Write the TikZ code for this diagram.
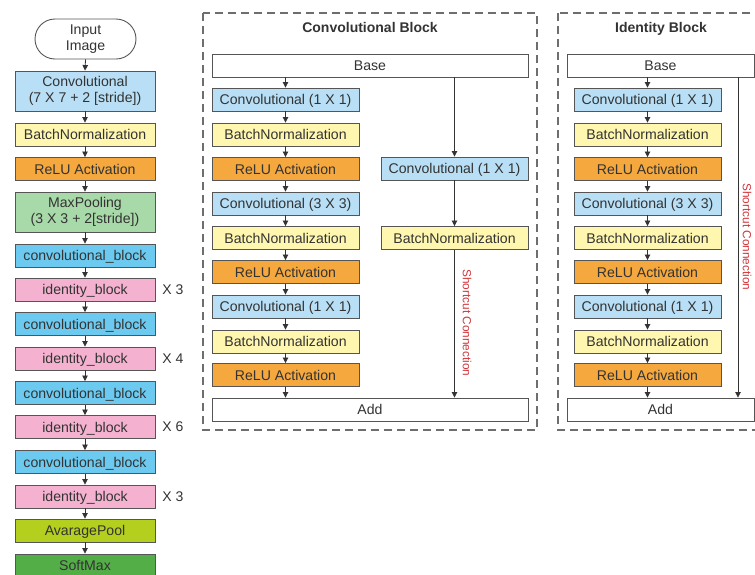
\documentclass[tikz,border=0pt]{standalone}
\usepackage{fontspec}
\setmainfont{Liberation Sans}
\usetikzlibrary{arrows.meta}
\definecolor{cLB}{HTML}{B8DFF5}
\definecolor{cCB}{HTML}{6CCAF0}
\definecolor{cPK}{HTML}{F4B2D0}
\definecolor{cYL}{HTML}{FFF7B0}
\definecolor{cOR}{HTML}{F5A83D}
\definecolor{cGN}{HTML}{A8D9A8}
\definecolor{cAV}{HTML}{B5CF1E}
\definecolor{cSM}{HTML}{53AE48}
\definecolor{cBD}{HTML}{555555}
\definecolor{cTX}{HTML}{333333}
\definecolor{cRD}{HTML}{D0353A}
\tikzset{
  box/.style={draw=cBD, line width=0.9pt, minimum height=23pt, inner sep=0pt,
    font=\fontsize{14.1}{16}\selectfont, text=cTX, align=center,
    text height=12pt, text depth=1.2pt},
  tall/.style={box, minimum height=40pt, text height=, text depth=},
  lw/.style={minimum width=140pt},
  bw/.style={minimum width=147pt},
  arr/.style={draw=cTX, line width=0.8pt, -{Triangle[length=5.5pt,width=5.5pt]}},
  frame/.style={draw=cBD!85, line width=1.1pt, dash pattern=on 8pt off 5pt},
  ttl/.style={font=\fontsize{14}{16}\selectfont\bfseries, text=cTX, anchor=base},
  sc/.style={font=\fontsize{11.8}{13}\selectfont, text=cRD, rotate=-90},
  mult/.style={font=\fontsize{14}{16}\selectfont, text=cTX}
}
\begin{document}
\begin{tikzpicture}[x=1pt,y=-1pt]
\useasboundingbox (0,0) rectangle (755,574);
\clip (0,0) rectangle (755,574);
% ---------------- left column ----------------
\node[tall, minimum width=101pt, rounded corners=20pt, fill=white] (inp) at (85.5,39) {Input\\Image};
\node[tall, lw, fill=cLB] (c7) at (85,91) {Convolutional\\(7 X 7 + 2 [stride])};
\node[box, lw, fill=cYL] (bn0) at (85,134.5) {BatchNormalization};
\node[box, lw, fill=cOR] (re0) at (85,169) {ReLU Activation};
\node[tall, lw, fill=cGN] (mp) at (85,212) {MaxPooling\\(3 X 3 + 2[stride])};
\node[box, lw, fill=cCB] (cb1) at (85,255.5) {convolutional\_block};
\node[box, lw, fill=cPK] (ib1) at (85,289.5) {identity\_block};
\node[box, lw, fill=cCB] (cb2) at (85,324) {convolutional\_block};
\node[box, lw, fill=cPK] (ib2) at (85,358.5) {identity\_block};
\node[box, lw, fill=cCB] (cb3) at (85,393) {convolutional\_block};
\node[box, lw, fill=cPK] (ib3) at (85,427) {identity\_block};
\node[box, lw, fill=cCB] (cb4) at (85,462) {convolutional\_block};
\node[box, lw, fill=cPK] (ib4) at (85,496.5) {identity\_block};
\node[box, lw, fill=cAV] (avg) at (85,530.5) {AvaragePool};
\node[box, lw, fill=cSM] (sm) at (85,565.5) {SoftMax};
\node[mult] (m1) at (173,289.5) {X 3};
\node[mult] (m2) at (173,358.5) {X 4};
\node[mult] (m3) at (173,427) {X 6};
\node[mult] (m4) at (173,496.5) {X 3};
\foreach \a/\b in {inp/c7,c7/bn0,bn0/re0,re0/mp,mp/cb1,cb1/ib1,ib1/cb2,cb2/ib2,ib2/cb3,cb3/ib3,ib3/cb4,cb4/ib4,ib4/avg,avg/sm}
  \draw[arr] (\a.south) -- (\b.north);
% ---------------- convolutional block ----------------
\draw[frame] (203,13) rectangle (537,430);
\node[ttl] (t1) at (370,32) {Convolutional Block};
\node[box, minimum width=316pt, fill=white] (base1) at (370,65.5) {Base};
\node[box, bw, fill=cLB] (a1) at (285.5,99.5) {Convolutional (1 X 1)};
\node[box, bw, fill=cYL] (a2) at (285.5,134.5) {BatchNormalization};
\node[box, bw, fill=cOR] (a3) at (285.5,169) {ReLU Activation};
\node[box, bw, fill=cLB] (a4) at (285.5,203.5) {Convolutional (3 X 3)};
\node[box, bw, fill=cYL] (a5) at (285.5,238) {BatchNormalization};
\node[box, bw, fill=cOR] (a6) at (285.5,272) {ReLU Activation};
\node[box, bw, fill=cLB] (a7) at (285.5,306.5) {Convolutional (1 X 1)};
\node[box, bw, fill=cYL] (a8) at (285.5,341.5) {BatchNormalization};
\node[box, bw, fill=cOR] (a9) at (285.5,375) {ReLU Activation};
\node[box, minimum width=316pt, fill=white] (add1) at (370,409.5) {Add};
\node[box, bw, fill=cLB] (r1) at (454.5,168.5) {Convolutional (1 X 1)};
\node[box, bw, fill=cYL] (r2) at (454.5,238) {BatchNormalization};
\draw[arr] (base1.south -| a1.north) -- (a1.north);
\foreach \a/\b in {a1/a2,a2/a3,a3/a4,a4/a5,a5/a6,a6/a7,a7/a8,a8/a9}
  \draw[arr] (\a.south) -- (\b.north);
\draw[arr] (a9.south) -- (add1.north -| a9.south);
\draw[arr] (base1.south -| r1.north) -- (r1.north);
\draw[arr] (r1.south) -- (r2.north);
\draw[arr] (r2.south) -- (add1.north -| r2.south);
\node[sc] (s1) at (467,323) {Shortcut Connection};
% ---------------- identity block ----------------
\draw[frame] (558,13) rectangle (770,430);
\node[ttl] (t2) at (661,32) {Identity Block};
\node[box, minimum width=187pt, fill=white] (base2) at (660.5,65.5) {Base};
\node[box, bw, fill=cLB] (b1) at (647.5,99.5) {Convolutional (1 X 1)};
\node[box, bw, fill=cYL] (b2) at (647.5,134.5) {BatchNormalization};
\node[box, bw, fill=cOR] (b3) at (647.5,169) {ReLU Activation};
\node[box, bw, fill=cLB] (b4) at (647.5,203.5) {Convolutional (3 X 3)};
\node[box, bw, fill=cYL] (b5) at (647.5,238) {BatchNormalization};
\node[box, bw, fill=cOR] (b6) at (647.5,272) {ReLU Activation};
\node[box, bw, fill=cLB] (b7) at (647.5,306.5) {Convolutional (1 X 1)};
\node[box, bw, fill=cYL] (b8) at (647.5,341.5) {BatchNormalization};
\node[box, bw, fill=cOR] (b9) at (647.5,375) {ReLU Activation};
\node[box, minimum width=187pt, fill=white] (add2) at (660.5,409.5) {Add};
\coordinate (scx) at (738,0);
\draw[arr] (base2.south -| b1.north) -- (b1.north);
\foreach \a/\b in {b1/b2,b2/b3,b3/b4,b4/b5,b5/b6,b6/b7,b7/b8,b8/b9}
  \draw[arr] (\a.south) -- (\b.north);
\draw[arr] (b9.south) -- (add2.north -| b9.south);
\draw[arr] (base2.south -| scx) -- (add2.north -| scx);
\node[sc] (s2) at (747,237) {Shortcut Connection};
\end{tikzpicture}
\end{document}
